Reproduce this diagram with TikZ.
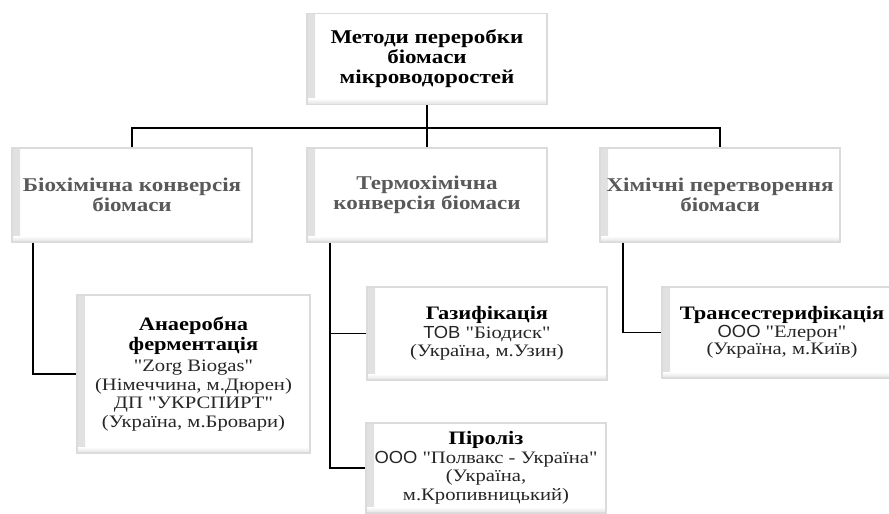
\documentclass[tikz,border=0pt]{standalone}
\usepackage{fontspec}
\setmainfont[Ligatures=TeXOff, FakeStretch=1.18]{Liberation Serif}
\newfontfamily\sanso[Ligatures=TeXOff, FakeStretch=1.05]{Liberation Sans}
\newcommand{\ttl}[1]{\textcolor{black}{\fontsize{19}{20}\selectfont\bfseries #1}}
\begin{document}
\begin{tikzpicture}[x=1pt,y=-1pt,
  bevel/.style={draw=gray!28, line width=1.4pt, fill=white, inner sep=2pt,
    align=center,
    path picture={
      \shade[left color=gray!24, right color=white]
        (path picture bounding box.south west) rectangle ([xshift=8pt]path picture bounding box.north west);
      \shade[bottom color=gray!24, top color=white]
        (path picture bounding box.south west) rectangle ([yshift=6pt]path picture bounding box.south east);
    }},
  topbox/.style={bevel, minimum width=240pt, minimum height=91pt,
    font=\fontsize{19.5}{20}\selectfont\bfseries},
  midbox/.style={bevel, minimum width=240pt, minimum height=94pt,
    font=\fontsize{19.5}{20}\selectfont\bfseries, text=black!65},
  lowbox/.style={bevel, minimum width=240pt,
    font=\fontsize{17.5}{18.5}\selectfont, text=black!85},
  conn/.style={draw=black, line width=1.4pt}
]
\useasboundingbox (0,0) rectangle (889,514);

\node[topbox] (top) at (427,59) {Методи переробки\\біомаси\\мікроводоростей};

\node[midbox] (bio) at (132,195) {Біохімічна конверсія\\біомаси};
\node[midbox] (therm) at (427,195) {Термохімічна\\конверсія біомаси};
\node[midbox] (chem) at (720,195) {Хімічні перетворення\\біомаси};

\node[lowbox, minimum width=233pt, minimum height=158pt] (anaer) at (193.5,374)
  {\ttl{Анаеробна}\\[1.5pt]\ttl{ферментація}\\[3pt]"Zorg Biogas"\\(Німеччина, м.Дюрен)\\ДП "УКРСПИРТ"\\(Україна, м.Бровари)};
\node[lowbox, minimum height=93pt] (gas) at (487,333.5)
  {\ttl{Газифікація}\\{\sanso ТОВ} "Біодиск"\\(Україна, м.Узин)};
\node[lowbox, minimum height=90pt] (pyro) at (486,468)
  {\ttl{Піроліз}\\{\sanso ООО} "Полвакс - Україна"\\(Україна,\\м.Кропивницький)};
\node[lowbox, minimum height=91pt, font=\fontsize{17.5}{17.5}\selectfont] (trans) at (782,332.5)
  {\ttl{Трансестерифікація}\\{\sanso ООО} "Елерон"\\(Україна, м.Київ)};

\coordinate (bus) at (427,128);
\draw[conn] (top.south) -- (top.south |- bus);
\draw[conn] (bio.north) |- (bus) -| (chem.north);
\draw[conn] (therm.north) -- (therm.north |- bus);

\coordinate (bioTrunk) at ([xshift=-99pt]bio.south);
\draw[conn] (bioTrunk) |- (anaer.west);

\coordinate (thermTrunk) at ([xshift=-97pt]therm.south);
\draw[conn] (thermTrunk) |- (pyro.west);
\draw[conn] (gas.west) -- (gas.west -| thermTrunk);

\coordinate (chemTrunk) at ([xshift=-97pt]chem.south);
\draw[conn] (chemTrunk) |- (trans.west);
\end{tikzpicture}
\end{document}
